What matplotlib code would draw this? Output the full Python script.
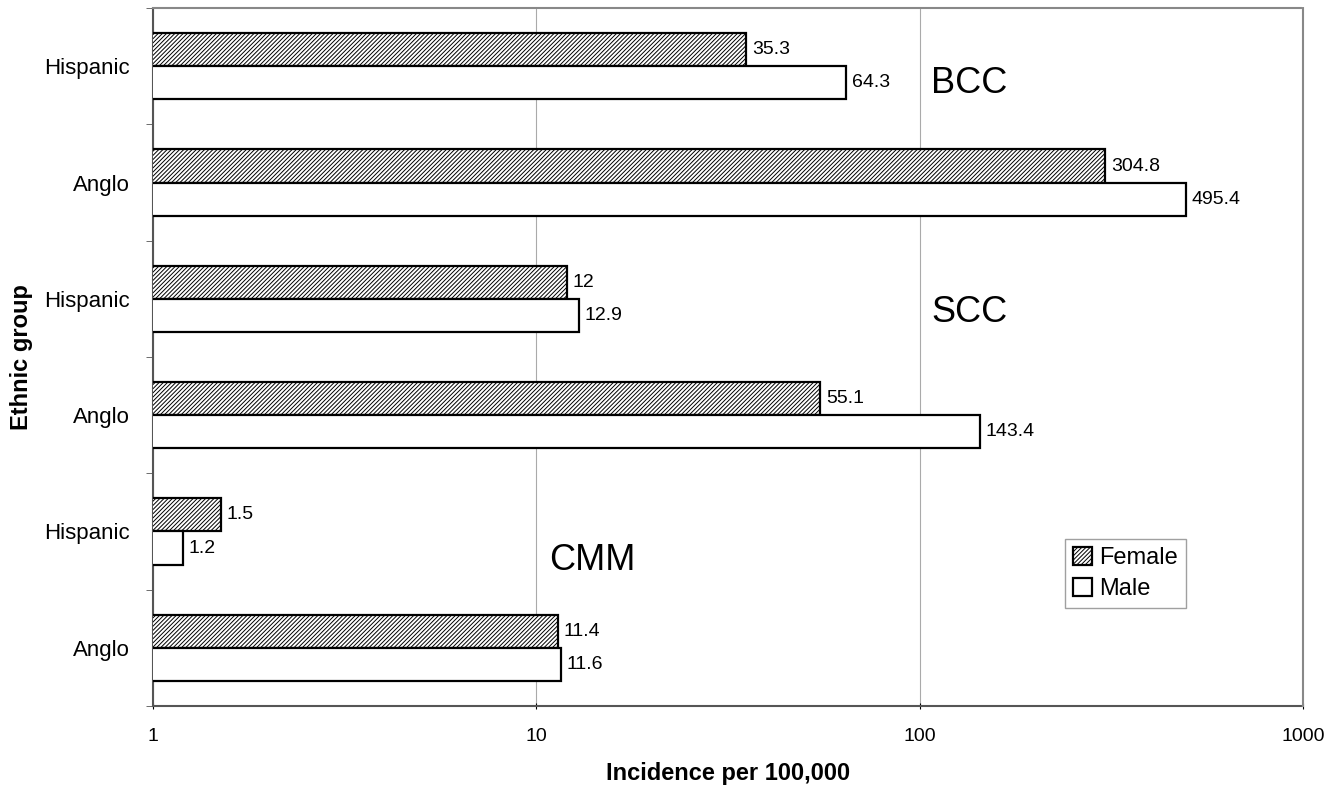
import matplotlib.pyplot as plt
import numpy as np
from matplotlib.ticker import FixedLocator, NullFormatter

plt.rcParams['font.family'] = ['Liberation Sans', 'DejaVu Sans']
plt.rcParams['hatch.linewidth'] = 0.7

# --- Data: incidence per 100,000 by ethnic group and cancer type ---
groups = ['Hispanic', 'Anglo', 'Hispanic', 'Anglo', 'Hispanic', 'Anglo']
female = [35.3, 304.8, 12, 55.1, 1.5, 11.4]
male = [64.3, 495.4, 12.9, 143.4, 1.2, 11.6]
cancer_types = ['BCC', 'SCC', 'CMM']

fig = plt.figure(figsize=(13.4, 7.88), dpi=100)
ax = fig.add_axes([0.1142, 0.1041, 0.8582, 0.8857])

pos = np.arange(len(groups))
h = 0.284
bf = ax.barh(pos - h / 2, female, height=h, left=0, color='white', edgecolor='black',
             linewidth=1.6, hatch='////////', label='Female', zorder=3)
bm = ax.barh(pos + h / 2, male, height=h, left=0, color='white', edgecolor='black',
             linewidth=1.6, label='Male', zorder=3)

ax.set_xscale('log')
ax.set_xlim(1, 1000)
ax.set_ylim(5.5, -0.5)

# value labels just right of each bar end
for bars, vals in ((bf, female), (bm, male)):
    for b, v in zip(bars, vals):
        ax.annotate(f'{v:g}', (v, b.get_y() + b.get_height() / 2),
                    xytext=(4, 0), textcoords='offset points',
                    ha='left', va='center', fontsize=14)

# cancer type labels
ax.text(135, 0.15, cancer_types[0], fontsize=26, ha='center', va='center')
ax.text(135, 2.12, cancer_types[1], fontsize=26, ha='center', va='center')
ax.text(14.0, 4.25, cancer_types[2], fontsize=26, ha='center', va='center')

ax.set_xticks([1, 10, 100, 1000])
ax.set_xticklabels(['1', '10', '100', '1000'])
ax.xaxis.set_minor_formatter(NullFormatter())
ax.tick_params(axis='x', which='minor', length=0)
ax.tick_params(axis='x', which='major', length=4, direction='inout', pad=14, labelsize=14)
ax.grid(axis='x', which='major', color='#aaaaaa', linewidth=0.8, zorder=0)

ax.set_yticks(pos)
ax.set_yticklabels(groups)
ax.yaxis.set_minor_locator(FixedLocator(np.arange(-0.5, 6, 1)))
ax.tick_params(axis='y', which='major', length=0, pad=17, labelsize=16)
ax.tick_params(axis='y', which='minor', length=5, direction='out', color='#555555')

for side in ('top', 'right'):
    ax.spines[side].set_color('#888888')
    ax.spines[side].set_linestyle((0, (1, 1)))
    ax.spines[side].set_linewidth(1.5)
for side in ('left', 'bottom'):
    ax.spines[side].set_color('#555555')
    ax.spines[side].set_linestyle((0, (1, 1)))
    ax.spines[side].set_linewidth(1.5)

ax.set_xlabel('Incidence per 100,000', fontsize=17, fontweight='bold', labelpad=12)
ax.set_ylabel('Ethnic group', fontsize=17, fontweight='bold', labelpad=8)

leg = ax.legend(loc='lower left', bbox_to_anchor=(0.793, 0.14), fontsize=17,
                frameon=True, fancybox=False, handlelength=0.8, handleheight=0.8,
                handletextpad=0.3, borderpad=0.35, labelspacing=0.35, borderaxespad=0)
leg.get_frame().set_edgecolor('#888888')
leg.get_frame().set_linewidth(1.0)

fig.savefig('out.png', dpi=100)
